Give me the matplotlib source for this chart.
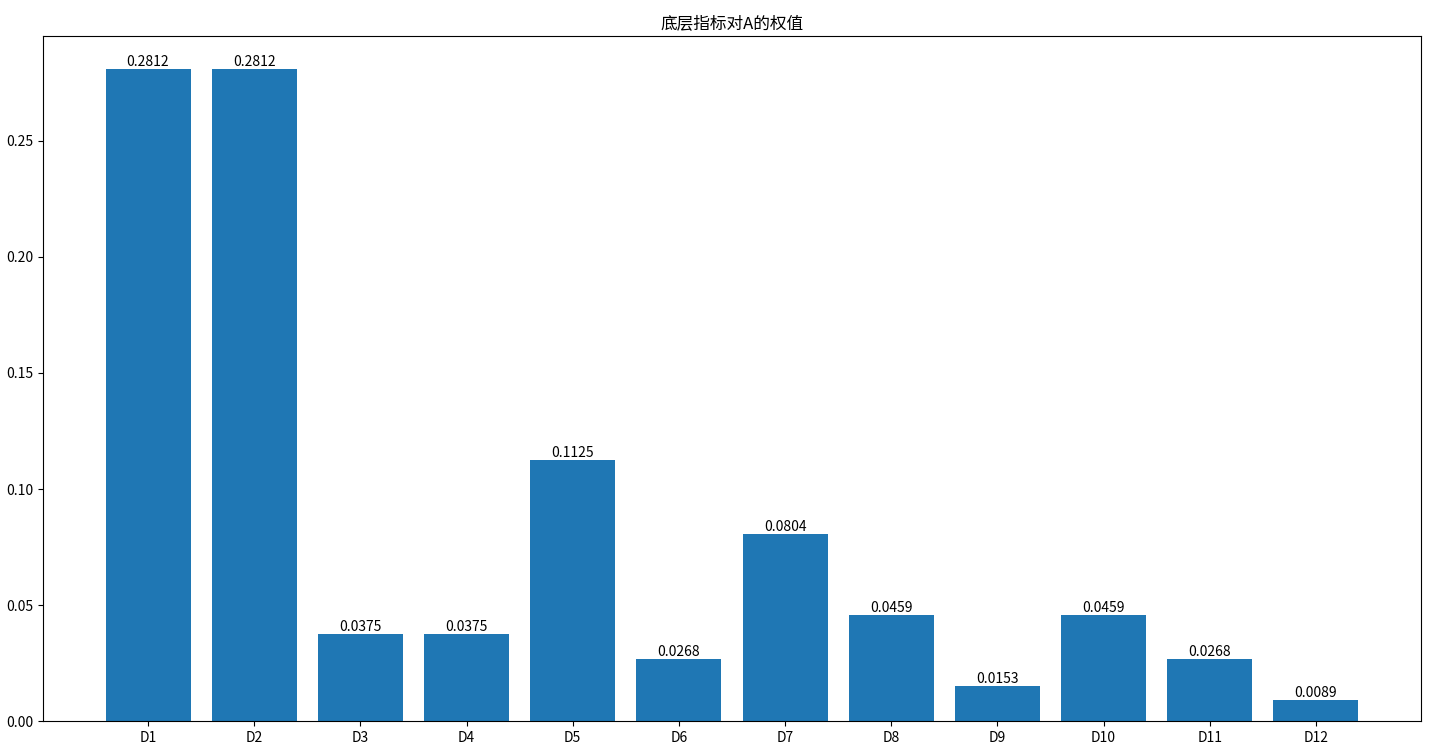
import matplotlib
matplotlib.use('Agg')
import matplotlib.pyplot as plt

plt.rcParams['font.family'] = ['Noto Sans CJK SC', 'DejaVu Sans']
plt.rcParams['axes.unicode_minus'] = False

# 底层指标及权值
names = ['D1', 'D2', 'D3', 'D4', 'D5', 'D6', 'D7', 'D8', 'D9', 'D10', 'D11', 'D12']
weights = [0.2812, 0.2812, 0.0375, 0.0375, 0.1125, 0.0268, 0.0804, 0.0459, 0.0153, 0.0459, 0.0268, 0.0089]

fig = plt.figure(figsize=(14.46, 7.45), dpi=100)
ax = fig.add_axes([0.0297, 0.0322, 0.953, 0.9195])
bars = ax.bar(names, weights)
for b, w in zip(bars, weights):
    ax.text(b.get_x() + b.get_width() / 2, b.get_height(), '%.4f' % w,
            ha='center', va='bottom')
ax.set_title('底层指标对A的权值')

fig.savefig('out.png', dpi=100)
